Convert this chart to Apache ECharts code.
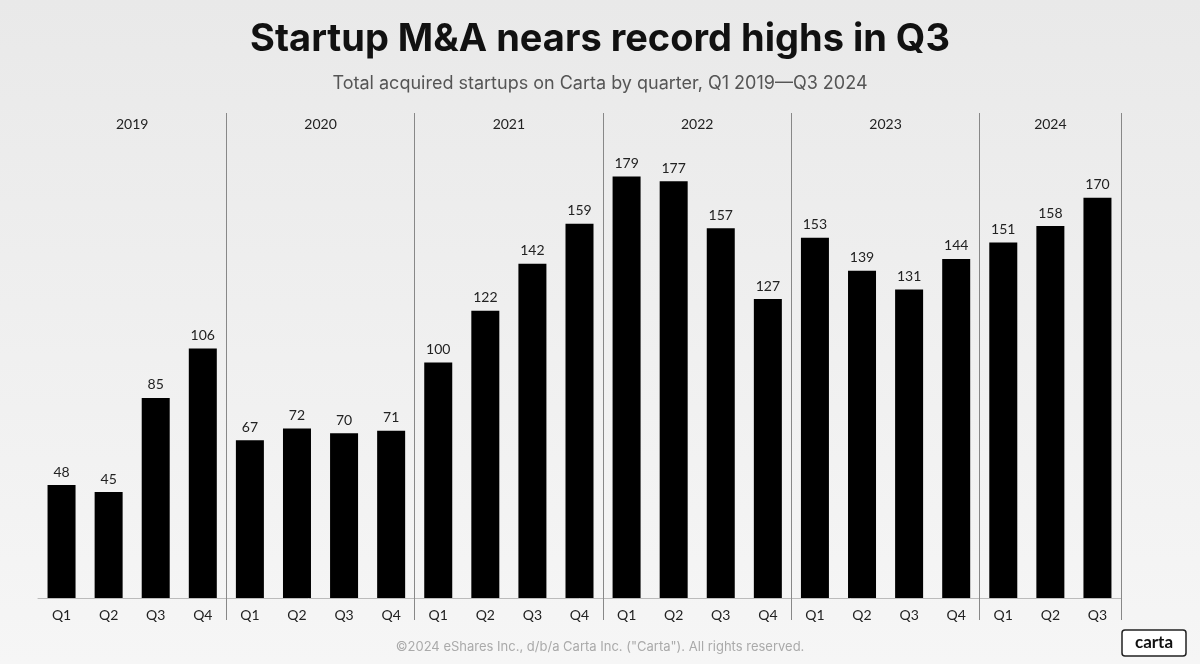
<!DOCTYPE html><html><head><meta charset="utf-8"><script src="https://cdn.jsdelivr.net/npm/echarts@6/dist/echarts.min.js"></script>
<style>html,body{margin:0;background:#ececec}#c{width:1200px;height:664px}</style></head><body><div id="c"></div><script>
const quarters=['Q1','Q2','Q3','Q4','Q1','Q2','Q3','Q4','Q1','Q2','Q3','Q4','Q1','Q2','Q3','Q4','Q1','Q2','Q3','Q4','Q1','Q2','Q3'];
const values=[48,45,85,106,67,72,70,71,100,122,142,159,179,177,157,127,153,139,131,144,151,158,170];
const years=['2019','2020','2021','2022','2023','2024'];
const yearStart=[0,4,8,12,16,20];
const yearLen=[4,4,4,4,4,3];
const boundaries=[4,8,12,16,20];
const ch=echarts.init(document.getElementById('c'));
const fam='Lato, "Noto Sans", sans-serif';
const tfam='Inter, "Noto Sans", sans-serif';
ch.setOption({
 backgroundColor:{type:'linear',x:0,y:0,x2:0,y2:1,colorStops:[{offset:0,color:'#e9e9e9'},{offset:1,color:'#f6f6f6'}]},
 title:[{text:'Startup M&A nears record highs in Q3',left:'center',top:16,textStyle:{fontFamily:tfam,fontSize:38,fontWeight:'bold',color:'#111'}},
 {text:'Total acquired startups on Carta by quarter, Q1 2019—Q3 2024',left:'center',top:70,textStyle:{fontFamily:tfam,fontSize:18,fontWeight:'normal',color:'#555'}},
 {text:'©2024 eShares Inc., d/b/a Carta Inc. ("Carta"). All rights reserved.',left:'center',top:636,textStyle:{fontFamily:tfam,fontSize:13,fontWeight:'normal',color:'#aaa'}}],
 grid:{left:38,right:79,top:113,bottom:66},
 xAxis:{type:'category',data:quarters,axisLine:{lineStyle:{color:'#bbb'}},
  axisTick:{show:true,length:22,interval:(i)=>boundaries.includes(i),lineStyle:{color:'#888'}},
  axisLabel:{color:'#222',fontFamily:fam,fontSize:14,margin:10},
  splitLine:{show:true,interval:(i)=>boundaries.includes(i),lineStyle:{color:'#888',width:1}}},
 yAxis:{type:'value',min:0,max:206,show:false,splitLine:{show:false}},
 series:[{type:'bar',data:values,barWidth:28,itemStyle:{color:'#000'},
  label:{show:true,position:'top',color:'#222',fontFamily:fam,fontSize:14,distance:6}}]
});
const g=[];
years.forEach((y,k)=>{
 const a=ch.convertToPixel({xAxisIndex:0},yearStart[k]);
 const b=ch.convertToPixel({xAxisIndex:0},yearStart[k]+yearLen[k]-1);
 g.push({type:'text',x:(a+b)/2,y:124,style:{text:y,fill:'#222',font:'14px '+fam,align:'center',verticalAlign:'middle'}});
});
g.push({type:'rect',shape:{x:1122,y:630,width:64,height:26,r:3},style:{fill:'#fff',stroke:'#222',lineWidth:1.5}});
g.push({type:'text',x:1154,y:643,style:{text:'carta',fill:'#111',font:'bold 17px '+fam,align:'center',verticalAlign:'middle'}});
ch.setOption({graphic:g});
</script></body></html>
